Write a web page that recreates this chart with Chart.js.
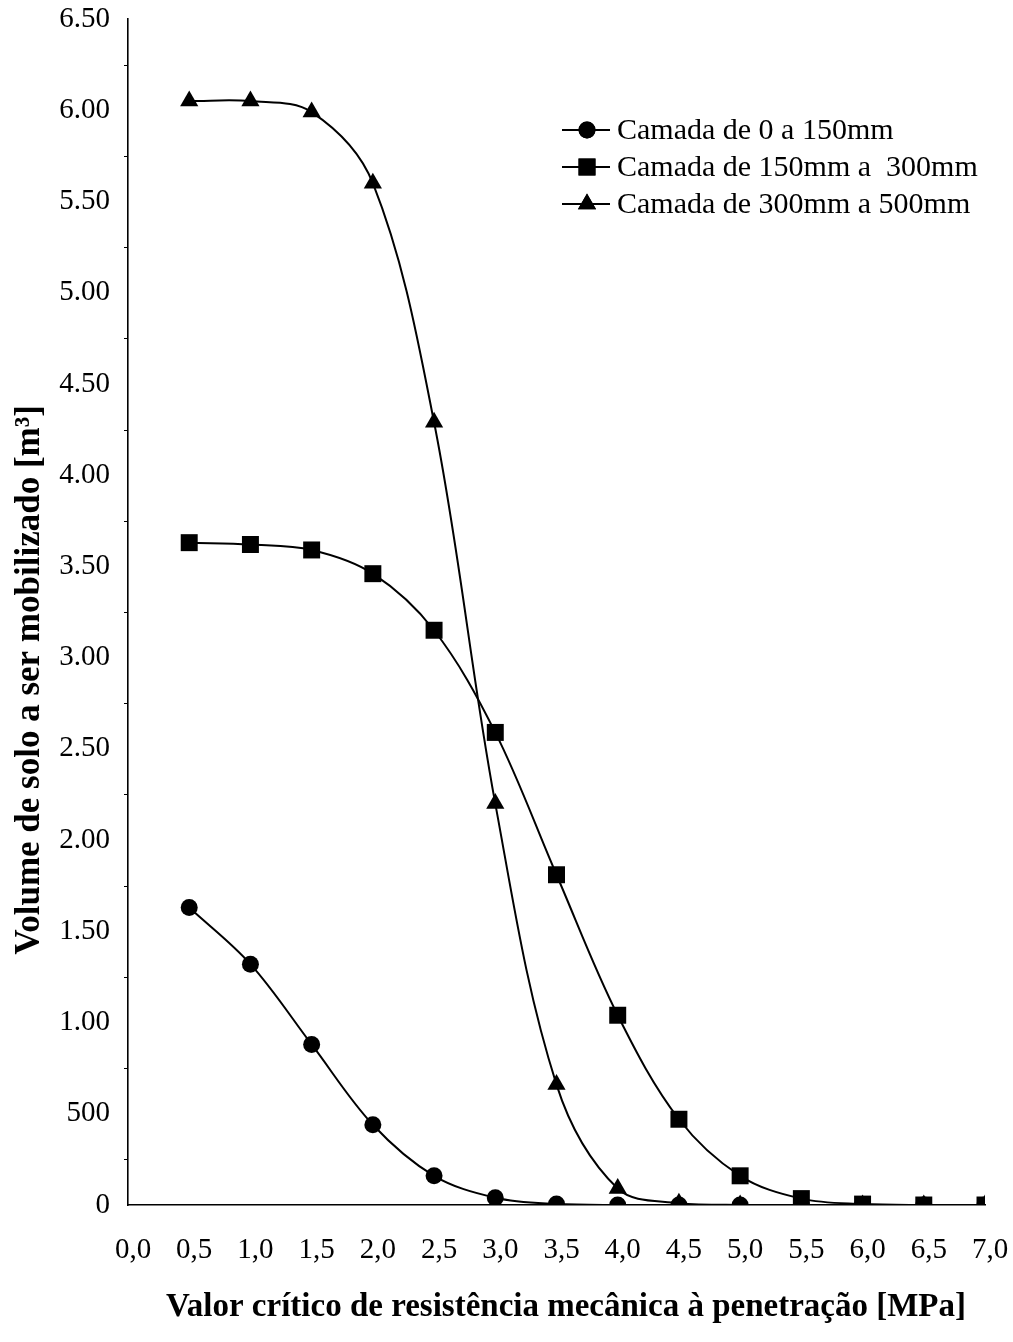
<!DOCTYPE html>
<html>
<head>
<meta charset="utf-8">
<script src="https://cdn.jsdelivr.net/npm/chart.js@4/dist/chart.umd.min.js"></script>
<style>
html,body{margin:0;padding:0;background:#fff;}
#wrap{width:1013px;height:1342px;position:relative;}
</style>
</head>
<body>
<div id="wrap"><canvas id="c" width="1013" height="1342"></canvas></div>
<script>
const xValues = [0.5, 1.0, 1.5, 2.0, 2.5, 3.0, 3.5, 4.0, 4.5, 5.0, 5.5, 6.0, 6.5, 7.0];
const layer0to150 = [1.63, 1.32, 0.88, 0.44, 0.16, 0.04, 0.005, 0, 0, 0, 0, 0, 0, 0];
const layer150to300 = [3.63, 3.62, 3.59, 3.46, 3.15, 2.59, 1.81, 1.04, 0.47, 0.16, 0.035, 0.005, 0, 0];
const layer300to500 = [6.05, 6.05, 5.99, 5.60, 4.29, 2.20, 0.66, 0.09, 0.01, 0, 0, 0, 0, 0];
const seriesNames = ["Camada de 0 a 150mm", "Camada de 150mm a  300mm", "Camada de 300mm a 500mm"];
const yTickLabels = {"0":"0","0.5":"500","1":"1.00","1.5":"1.50","2":"2.00","2.5":"2.50","3":"3.00","3.5":"3.50","4":"4.00","4.5":"4.50","5":"5.00","5.5":"5.50","6":"6.00","6.5":"6.50"};
const xTitle = "Valor crítico de resistência mecânica à penetração [MPa]";
const yTitle = "Volume de solo a ser mobilizado [m³]";

const FONT = "'Liberation Serif','Times New Roman',serif";

function pts(vals){ return xValues.map((x,i)=>({x:x, y:vals[i]})); }

const common = {borderColor:'#000', backgroundColor:'#000', pointBackgroundColor:'#000', pointBorderColor:'#000', borderWidth:2, pointBorderWidth:0, tension:0.35, fill:false};

const datasets = [
  Object.assign({}, common, {label:seriesNames[0], data:pts(layer0to150), pointStyle:'circle', pointRadius:8.5, order:2}),
  Object.assign({}, common, {label:seriesNames[1], data:pts(layer150to300), pointStyle:'rect', pointRadius:12, order:1}),
  Object.assign({}, common, {label:seriesNames[2], data:pts(layer300to500), pointStyle:'triangle', pointRadius:10.5, order:3})
];

const extras = {
  id:'extras',
  afterDraw(chart){
    const ctx = chart.ctx;
    const ys = chart.scales.y, xs = chart.scales.x;
    ctx.save();
    // minor ticks
    ctx.strokeStyle='#000'; ctx.lineWidth=1;
    for(let v=0.25; v<6.5; v+=0.5){
      const py = Math.round(ys.getPixelForValue(v))+0.5;
      ctx.beginPath(); ctx.moveTo(xs.left-4, py); ctx.lineTo(xs.left, py); ctx.stroke();
    }
    // axis titles
    ctx.fillStyle='#000';
    ctx.textAlign='center'; ctx.textBaseline='middle';
    ctx.font = "bold 33px " + FONT;
    ctx.fillText(xTitle, 566, 1307);
    ctx.save();
    ctx.font = "bold 35px " + FONT;
    ctx.translate(30, 680);
    ctx.rotate(-Math.PI/2);
    ctx.fillText(yTitle, 0, 0);
    ctx.restore();
    // legend
    const rows = [130, 167, 204];
    ctx.font = "30px " + FONT;
    ctx.textAlign='left';
    chart.data.datasets.forEach((ds,i)=>{
      const y = rows[i];
      ctx.strokeStyle='#000'; ctx.lineWidth=2;
      ctx.beginPath(); ctx.moveTo(562,y); ctx.lineTo(610,y); ctx.stroke();
      Chart.helpers.drawPoint(ctx, {pointStyle:ds.pointStyle, radius: ds.pointStyle==='rect'?12:(ds.pointStyle==='circle'?8.5:10.5), rotation:0, borderWidth:0}, 587, y);
      ctx.fillStyle='#000';
      ctx.fill();
      ctx.fillText(ds.label, 617, y+1);
    });
    ctx.restore();
  }
};

new Chart(document.getElementById('c'), {
  type:'line',
  data:{datasets:datasets},
  options:{
    responsive:false,
    animation:false,
    layout:{padding:{top:19, right:28, left:0, bottom:0}},
    plugins:{legend:{display:false}, tooltip:{enabled:false}},
    scales:{
      x:{
        type:'linear', min:0, max:7,
        ticks:{stepSize:0.5, color:'#000', font:{family:FONT, size:29}, padding:20, maxRotation:0, autoSkip:false, labelOffset:5,
          callback:(v)=>v.toFixed(1).replace('.',',')},
        grid:{display:false, drawOnChartArea:false, drawTicks:true, tickLength:8, tickColor:'#000', tickWidth:1},
        border:{display:true, color:'#000', width:1.6},
        afterFit:(s)=>{s.height=137; s.paddingLeft=0; s.paddingRight=0;}
      },
      y:{
        type:'linear', min:0, max:6.5,
        ticks:{stepSize:0.5, color:'#000', font:{family:FONT, size:29}, padding:12,
          callback:(v)=>{const k=String(Math.round(v*100)/100); return yTickLabels[k]!==undefined?yTickLabels[k]:'';}},
        grid:{display:false, drawOnChartArea:false, drawTicks:true, tickLength:6, tickColor:'#000', tickWidth:1},
        border:{display:true, color:'#000', width:1.6},
        afterFit:(s)=>{s.width=128; s.paddingTop=0; s.paddingBottom=0;}
      }
    }
  },
  plugins:[extras]
});
</script>
</body>
</html>
